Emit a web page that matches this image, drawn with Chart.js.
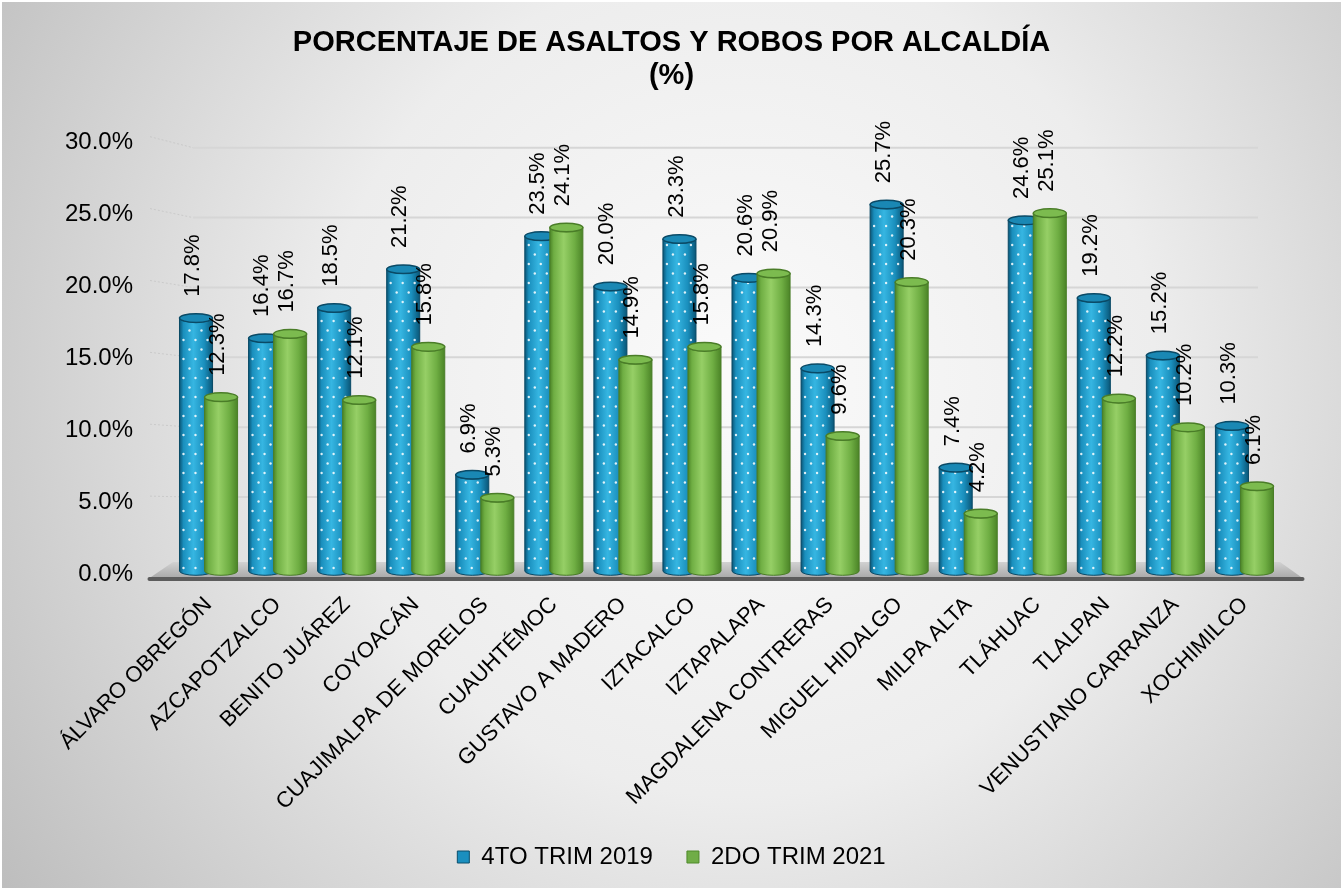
<!DOCTYPE html>
<html>
<head>
<meta charset="utf-8">
<script src="https://cdn.jsdelivr.net/npm/chart.js@4/dist/chart.umd.min.js"></script>
<style>
html,body{margin:0;padding:0;background:#fff;}
#wrap{width:1343px;height:890px;position:relative;}
canvas{display:block;}
</style>
</head>
<body>
<div id="wrap"><canvas id="c" width="1343" height="890"></canvas></div>
<script>
const categories = ["ÁLVARO OBREGÓN","AZCAPOTZALCO","BENITO JUÁREZ","COYOACÁN","CUAJIMALPA DE MORELOS","CUAUHTÉMOC","GUSTAVO A MADERO","IZTACALCO","IZTAPALAPA","MAGDALENA CONTRERAS","MIGUEL HIDALGO","MILPA ALTA","TLÁHUAC","TLALPAN","VENUSTIANO CARRANZA","XOCHIMILCO"];
const trim2019 = [17.8,16.4,18.5,21.2,6.9,23.5,20.0,23.3,20.6,14.3,25.7,7.4,24.6,19.2,15.2,10.3];
const trim2021 = [12.3,16.7,12.1,15.8,5.3,24.1,14.9,15.8,20.9,9.6,20.3,4.2,25.1,12.2,10.2,6.1];
const seriesNames = ["4TO TRIM 2019","2DO TRIM 2021"];
const yTicks = [0,5,10,15,20,25,30];
const titleLines = ["PORCENTAJE DE ASALTOS Y ROBOS POR ALCALDÍA","(%)"];

const FONT = "'Liberation Sans', Arial, sans-serif";

const bgPlugin = {
  id:'bg',
  beforeDraw(chart){
    const {ctx,width,height} = chart;
    ctx.save();
    const g = ctx.createRadialGradient(740,380,20,740,380,900);
    g.addColorStop(0,'#fafafa');
    g.addColorStop(0.45,'#ededed');
    g.addColorStop(1,'#bdbdbd');
    ctx.fillStyle = g;
    ctx.fillRect(0,0,width,height);
    ctx.strokeStyle = '#ffffff';
    ctx.lineWidth = 2;
    ctx.strokeRect(1,1,width-2,height-2);
    ctx.restore();
  }
};

const floorPlugin = {
  id:'floor',
  beforeDatasetsDraw(chart){
    const {ctx,chartArea:ca,scales:{y}} = chart;
    ctx.save();
    const zero = y.getPixelForValue(0);
    const backL = ca.left + 19, backR = ca.right - 21;
    yTicks.forEach(v=>{
      if (v===0) return;
      const p = y.getPixelForValue(v);
      const yb = 567 - (zero - p) * (420/432);
      ctx.strokeStyle = 'rgba(190,190,190,0.6)';
      ctx.lineWidth = 1;
      ctx.setLineDash([2,2]);
      ctx.beginPath(); ctx.moveTo(ca.left-24, p-6); ctx.lineTo(backL, yb); ctx.stroke();
      ctx.setLineDash([]);
      ctx.strokeStyle = '#d6d6d6';
      ctx.lineWidth = 2;
      ctx.beginPath(); ctx.moveTo(backL, yb); ctx.lineTo(backR, yb); ctx.stroke();
    });
    const fl = ca.left - 24.5, fr = ca.right + 23.5;
    const g = ctx.createLinearGradient(0,561,0,579);
    g.addColorStop(0,'#d4d4d4');
    g.addColorStop(1,'#a6a6a6');
    ctx.fillStyle = g;
    ctx.beginPath();
    ctx.moveTo(fl, 578);
    ctx.lineTo(ca.left-1, 562);
    ctx.lineTo(ca.right+1, 562);
    ctx.lineTo(fr, 578);
    ctx.closePath();
    ctx.fill();
    ctx.strokeStyle = '#5c5c5c';
    ctx.lineWidth = 4;
    ctx.lineCap = 'round';
    ctx.beginPath(); ctx.moveTo(fl, 579); ctx.lineTo(fr, 579); ctx.stroke();
    ctx.restore();
  },
  beforeDatasetDraw(){ return false; }
};

const palettes = [
  {dark:'#0a5677', mid:'#1a8fbd', light:'#36b6e2', rim:'#0a4a66', top:'#1a88b4', dots:true},
  {dark:'#4b8427', mid:'#6fae43', light:'#96cf66', rim:'#4a7d28', top:'#7cbb4f', dots:false}
];

function drawCylinder(ctx, cx, top, bottom, w, pal){
  const l = cx - w/2, r = cx + w/2, ry = w*0.13;
  ctx.save();
  const g = ctx.createLinearGradient(l,0,r,0);
  g.addColorStop(0, pal.dark);
  g.addColorStop(0.12, pal.mid);
  g.addColorStop(0.42, pal.light);
  g.addColorStop(0.75, pal.mid);
  g.addColorStop(1, pal.dark);
  ctx.fillStyle = g;
  ctx.beginPath();
  ctx.moveTo(l, top);
  ctx.lineTo(l, bottom);
  ctx.ellipse(cx, bottom, w/2, ry, 0, Math.PI, 0, true);
  ctx.lineTo(r, top);
  ctx.ellipse(cx, top, w/2, ry, 0, 0, Math.PI, false);
  ctx.closePath();
  ctx.fill();
  ctx.strokeStyle = pal.rim;
  ctx.lineWidth = 1;
  ctx.stroke();
  if (pal.dots){
    ctx.save();
    ctx.clip();
    ctx.fillStyle = 'rgba(255,255,255,0.85)';
    let row = 0;
    for (let yy = bottom - 3; yy > top + ry; yy -= 9.5, row++){
      const off = (row % 2) ? 6 : 0;
      for (let xx = l + 4 + off; xx < r - 2; xx += 12){
        ctx.beginPath(); ctx.arc(xx, yy, 1.2, 0, Math.PI*2); ctx.fill();
      }
    }
    ctx.restore();
  }
  ctx.beginPath();
  ctx.ellipse(cx, top, w/2, ry, 0, 0, Math.PI*2);
  ctx.fillStyle = pal.top;
  ctx.fill();
  ctx.strokeStyle = pal.rim;
  ctx.lineWidth = 1.5;
  ctx.stroke();
  ctx.restore();
}

const cylPlugin = {
  id:'cyl',
  afterDatasetsDraw(chart){
    const {ctx} = chart;
    chart.data.datasets.forEach((ds, di)=>{
      const meta = chart.getDatasetMeta(di);
      meta.data.forEach((el)=>{
        const w = el.width * 1.32;
        drawCylinder(ctx, el.x, el.y, el.base - 3, w, palettes[di]);
      });
    });
    chart.data.datasets.forEach((ds, di)=>{
      const meta = chart.getDatasetMeta(di);
      meta.data.forEach((el, i)=>{
        const w = el.width * 1.32;
        ctx.save();
        ctx.translate(el.x - 3, el.y - w*0.13 - 17);
        ctx.rotate(-Math.PI/2);
        ctx.font = '22px ' + FONT;
        ctx.fillStyle = '#000';
        ctx.textAlign = 'left';
        ctx.textBaseline = 'middle';
        ctx.fillText(ds.data[i].toFixed(1) + '%', 0, 0);
        ctx.restore();
      });
    });
  }
};

new Chart(document.getElementById('c'), {
  type:'bar',
  data:{
    labels: categories,
    datasets:[
      {label: seriesNames[0], data: trim2019, backgroundColor:'#1a8fbf', borderColor:'#0b4f6c', borderWidth:1},
      {label: seriesNames[1], data: trim2021, backgroundColor:'#70ad47', borderColor:'#4e8a2a', borderWidth:1}
    ]
  },
  options:{
    responsive:false,
    animation:false,
    layout:{padding:{left:0,right:0,top:0,bottom:11}},
    datasets:{bar:{categoryPercentage:0.725, barPercentage:1}},
    plugins:{
      title:{display:true, text:titleLines, color:'#000', font:{family:FONT, size:29, weight:'bold', lineHeight:1.15}, padding:{top:26,bottom:50}},
      legend:{position:'bottom', labels:{color:'#000', font:{family:FONT,size:24}, boxWidth:12, boxHeight:12, padding:14,
        generateLabels(chart){
          const items = Chart.defaults.plugins.legend.labels.generateLabels(chart);
          items.forEach((it, k)=>{ if (k < items.length-1) it.text = it.text + '   '; });
          return items;
        }}},
      tooltip:{enabled:false}
    },
    scales:{
      x:{
        grid:{display:false, drawTicks:false},
        border:{display:false},
        ticks:{color:'#000', font:{family:FONT,size:22}, minRotation:45, maxRotation:45, padding:18, autoSkip:false},
        afterFit(s){ s.height = 257; }
      },
      y:{
        min:0, max:30,
        grid:{display:false, drawTicks:false},
        border:{display:false},
        ticks:{stepSize:5, color:'#000', font:{family:FONT,size:24}, padding:41, callback:v=>v.toFixed(1)+'%'},
        afterFit(s){ s.width = 174; }
      },
      yRight:{
        position:'right', min:0, max:30,
        grid:{display:false, drawTicks:false},
        border:{display:false},
        ticks:{display:false},
        afterFit(s){ s.width = 64; }
      }
    }
  },
  plugins:[bgPlugin, floorPlugin, cylPlugin]
});
</script>
</body>
</html>
